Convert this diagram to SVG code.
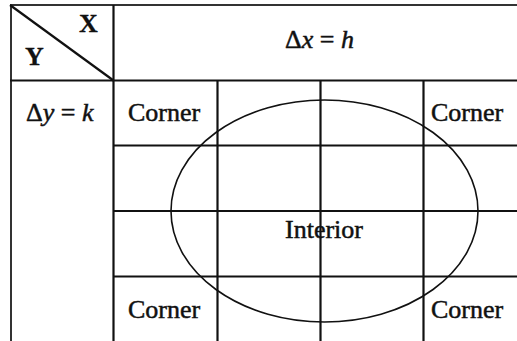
<svg xmlns="http://www.w3.org/2000/svg" width="517" height="341" viewBox="0 0 517 341">
<style>
.t{font-family:"Liberation Serif","Times New Roman",serif;font-size:26px;fill:#111;stroke:#111;stroke-width:0.5}
.b{font-weight:bold;stroke-width:0.3}
.i{font-style:italic}
.g{stroke:#111;stroke-width:2.2;fill:none}
.o{stroke:#333;stroke-width:2;fill:none}
</style>
<rect width="517" height="341" fill="#fff"/>
<g id="frame">
<line class="o" x1="10" y1="5" x2="517" y2="5"/>
<line class="o" x1="11" y1="5" x2="11" y2="341"/>
<line class="g" x1="10" y1="5" x2="113.5" y2="80.5"/>
<line class="g" x1="113.5" y1="5" x2="113.5" y2="341"/>
<line class="g" x1="10" y1="80.5" x2="517" y2="80.5"/>
</g>
<g id="grid">
<line class="g" x1="217.5" y1="80.5" x2="217.5" y2="341"/>
<line class="g" x1="320.5" y1="80.5" x2="320.5" y2="341"/>
<line class="g" x1="423.5" y1="80.5" x2="423.5" y2="341"/>
<line class="g" x1="113.5" y1="145.5" x2="517" y2="145.5"/>
<line class="g" x1="113.5" y1="211" x2="517" y2="211"/>
<line class="g" x1="113.5" y1="276.5" x2="517" y2="276.5"/>
</g>
<g id="ellipse">
<ellipse cx="324.5" cy="211" rx="153.5" ry="111" fill="none" stroke="#111" stroke-width="1.6"/>
</g>
<g id="labels">
<text class="t b" x="79" y="32">X</text>
<text class="t b" x="25" y="65">Y</text>
<text class="t" x="26" y="121">Δ<tspan class="i">y</tspan> = <tspan class="i">k</tspan></text>
<text class="t" x="285" y="48">Δ<tspan class="i">x</tspan> = <tspan class="i">h</tspan></text>
<text class="t" x="128" y="121">Corner</text>
<text class="t" x="431" y="121">Corner</text>
<text class="t" x="128" y="318">Corner</text>
<text class="t" x="431" y="318">Corner</text>
<text class="t" x="285" y="238">Interior</text>
</g>
</svg>
